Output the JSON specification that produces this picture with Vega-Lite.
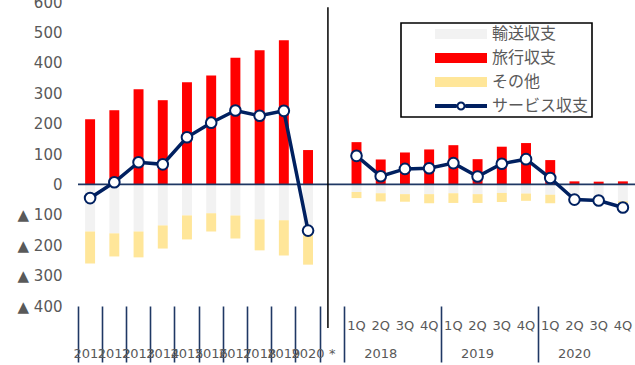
{
  "$schema": "https://vega.github.io/schema/vega-lite/v6.json",
  "autosize": {"type": "none"},
  "padding": {"left": 78, "top": 2, "right": 0, "bottom": 59},
  "width": 557,
  "height": 304,
  "title": {
    "text": "（図表6）タイのサービス収支（内訳）の推移",
    "frame": "group",
    "anchor": "middle",
    "dx": -29,
    "offset": -19,
    "baseline": "bottom",
    "font": "Noto Sans CJK JP",
    "fontSize": 18,
    "fontWeight": "normal",
    "color": "#000000"
  },
  "datasets": {
    "bars": [
      {"k": "2011", "s": "旅行収支", "v": 214}, {"k": "2011", "s": "輸送収支", "v": -155}, {"k": "2011", "s": "その他", "v": -105},
      {"k": "2012", "s": "旅行収支", "v": 244}, {"k": "2012", "s": "輸送収支", "v": -161}, {"k": "2012", "s": "その他", "v": -76},
      {"k": "2013", "s": "旅行収支", "v": 313}, {"k": "2013", "s": "輸送収支", "v": -155}, {"k": "2013", "s": "その他", "v": -85},
      {"k": "2014", "s": "旅行収支", "v": 277}, {"k": "2014", "s": "輸送収支", "v": -135}, {"k": "2014", "s": "その他", "v": -76},
      {"k": "2015", "s": "旅行収支", "v": 336}, {"k": "2015", "s": "輸送収支", "v": -102}, {"k": "2015", "s": "その他", "v": -79},
      {"k": "2016", "s": "旅行収支", "v": 358}, {"k": "2016", "s": "輸送収支", "v": -95}, {"k": "2016", "s": "その他", "v": -60},
      {"k": "2017", "s": "旅行収支", "v": 417}, {"k": "2017", "s": "輸送収支", "v": -102}, {"k": "2017", "s": "その他", "v": -76},
      {"k": "2018", "s": "旅行収支", "v": 441}, {"k": "2018", "s": "輸送収支", "v": -115}, {"k": "2018", "s": "その他", "v": -102},
      {"k": "2019", "s": "旅行収支", "v": 474}, {"k": "2019", "s": "輸送収支", "v": -118}, {"k": "2019", "s": "その他", "v": -116},
      {"k": "2020", "s": "旅行収支", "v": 113}, {"k": "2020", "s": "輸送収支", "v": -164}, {"k": "2020", "s": "その他", "v": -100},
      {"k": "2018-1Q", "s": "旅行収支", "v": 139}, {"k": "2018-1Q", "s": "輸送収支", "v": -25}, {"k": "2018-1Q", "s": "その他", "v": -20},
      {"k": "2018-2Q", "s": "旅行収支", "v": 82}, {"k": "2018-2Q", "s": "輸送収支", "v": -29}, {"k": "2018-2Q", "s": "その他", "v": -27},
      {"k": "2018-3Q", "s": "旅行収支", "v": 105}, {"k": "2018-3Q", "s": "輸送収支", "v": -32}, {"k": "2018-3Q", "s": "その他", "v": -25},
      {"k": "2018-4Q", "s": "旅行収支", "v": 115}, {"k": "2018-4Q", "s": "輸送収支", "v": -32}, {"k": "2018-4Q", "s": "その他", "v": -30},
      {"k": "2019-1Q", "s": "旅行収支", "v": 129}, {"k": "2019-1Q", "s": "輸送収支", "v": -29}, {"k": "2019-1Q", "s": "その他", "v": -32},
      {"k": "2019-2Q", "s": "旅行収支", "v": 83}, {"k": "2019-2Q", "s": "輸送収支", "v": -32}, {"k": "2019-2Q", "s": "その他", "v": -29},
      {"k": "2019-3Q", "s": "旅行収支", "v": 124}, {"k": "2019-3Q", "s": "輸送収支", "v": -28}, {"k": "2019-3Q", "s": "その他", "v": -30},
      {"k": "2019-4Q", "s": "旅行収支", "v": 136}, {"k": "2019-4Q", "s": "輸送収支", "v": -30}, {"k": "2019-4Q", "s": "その他", "v": -24},
      {"k": "2020-1Q", "s": "旅行収支", "v": 80}, {"k": "2020-1Q", "s": "輸送収支", "v": -34}, {"k": "2020-1Q", "s": "その他", "v": -28},
      {"k": "2020-2Q", "s": "旅行収支", "v": 10}, {"k": "2020-2Q", "s": "輸送収支", "v": -42}, {"k": "2020-2Q", "s": "その他", "v": -18},
      {"k": "2020-3Q", "s": "旅行収支", "v": 9}, {"k": "2020-3Q", "s": "輸送収支", "v": -42}, {"k": "2020-3Q", "s": "その他", "v": -20},
      {"k": "2020-4Q", "s": "旅行収支", "v": 10}, {"k": "2020-4Q", "s": "輸送収支", "v": -55}, {"k": "2020-4Q", "s": "その他", "v": -31}
    ],
    "service": [
      {"k": "2011", "p": "年", "v": -45},
      {"k": "2012", "p": "年", "v": 7},
      {"k": "2013", "p": "年", "v": 73},
      {"k": "2014", "p": "年", "v": 66},
      {"k": "2015", "p": "年", "v": 155},
      {"k": "2016", "p": "年", "v": 203},
      {"k": "2017", "p": "年", "v": 243},
      {"k": "2018", "p": "年", "v": 226},
      {"k": "2019", "p": "年", "v": 242},
      {"k": "2020", "p": "年", "v": -152},
      {"k": "2018-1Q", "p": "四半期", "v": 94},
      {"k": "2018-2Q", "p": "四半期", "v": 27},
      {"k": "2018-3Q", "p": "四半期", "v": 51},
      {"k": "2018-4Q", "p": "四半期", "v": 53},
      {"k": "2019-1Q", "p": "四半期", "v": 70},
      {"k": "2019-2Q", "p": "四半期", "v": 26},
      {"k": "2019-3Q", "p": "四半期", "v": 68},
      {"k": "2019-4Q", "p": "四半期", "v": 83},
      {"k": "2020-1Q", "p": "四半期", "v": 21},
      {"k": "2020-2Q", "p": "四半期", "v": -50},
      {"k": "2020-3Q", "p": "四半期", "v": -53},
      {"k": "2020-4Q", "p": "四半期", "v": -76}
    ]
  },
  "layer": [
    {
      "data": {"name": "bars"},
      "mark": {"type": "bar", "width": {"band": 0.41}},
      "encoding": {
        "x": {
          "field": "k",
          "type": "nominal",
          "sort": null,
          "title": null,
          "scale": {
            "type": "band",
            "paddingInner": 0,
            "paddingOuter": 0,
            "domain": ["2011", "2012", "2013", "2014", "2015", "2016", "2017", "2018", "2019", "2020", "*",
                       "2018-1Q", "2018-2Q", "2018-3Q", "2018-4Q", "2019-1Q", "2019-2Q", "2019-3Q", "2019-4Q",
                       "2020-1Q", "2020-2Q", "2020-3Q", "2020-4Q"]
          },
          "axis": {
            "orient": "bottom",
            "title": null,
            "domain": false,
            "grid": false,
            "ticks": true,
            "bandPosition": 0,
            "tickSize": 56,
            "tickWidth": 1.6,
            "tickColor": "#1f3864",
            "tickOpacity": {"condition": {"test": "indexof(datum.value, 'Q') < 0 || indexof(datum.value, '-1Q') > 0", "value": 1}, "value": 0},
            "labelAngle": 0,
            "labelOverlap": false,
            "labelPadding": -43,
            "labelBaseline": "top",
            "labelLineHeight": 28,
            "labelFont": "DejaVu Sans",
            "labelFontSize": 13,
            "labelColor": "#595959",
            "labelExpr": "indexof(datum.value, '-2Q') > 0 ? ['2Q', '\u2007\u2007\u2007' + slice(datum.value, 0, 4)] : indexof(datum.value, 'Q') > 0 ? slice(datum.value, 5) : ['', datum.value]"
          }
        },
        "y": {
          "field": "v",
          "type": "quantitative",
          "stack": "zero",
          "scale": {"domain": [-400, 600], "nice": false, "zero": false},
          "axis": {
            "title": null,
            "values": [-400, -300, -200, -100, 0, 100, 200, 300, 400, 500, 600],
            "tickCount": 12,
            "labelExpr": "datum.value < 0 ? '▲ ' + format(-datum.value, 'd') : format(datum.value, 'd')",
            "labelOverlap": false,
            "domain": false,
            "ticks": false,
            "grid": false,
            "labelPadding": 16,
            "labelFont": "DejaVu Sans",
            "labelFontSize": 15,
            "labelColor": "#595959"
          }
        },
        "color": {
          "field": "s",
          "type": "nominal",
          "scale": {
            "domain": ["輸送収支", "旅行収支", "その他", "サービス収支"],
            "range": ["#f2f2f2", "#ff0000", "#ffe699", "#002060"]
          },
          "legend": {
            "orient": "none",
            "legendX": 323,
            "legendY": 21,
            "title": null,
            "padding": 3,
            "rowPadding": 8,
            "symbolType": "M-3.25,-0.625H3.25V0.625H-3.25Z",
            "symbolOffset": 49,
            "labelOffset": 23,
            "symbolSize": 256,
            "symbolStrokeWidth": 0,
            "labelFont": "Noto Sans CJK JP",
            "labelFontSize": 16,
            "labelColor": "#595959",
            "strokeColor": "#000000",
            "fillColor": "#ffffff",
            "encode": {
              "legend": {"update": {"strokeWidth": {"value": 1.6}}},
              "symbols": {
                "update": {
                  "shape": {"signal": "datum.value === 'サービス収支' ? 'M-3.25,-0.25H-0.55V0.25H-3.25ZM0.55,-0.25H3.25V0.25H0.55ZM0.5625,0A0.5625,0.5625,0,1,1,-0.5625,0A0.5625,0.5625,0,1,1,0.5625,0ZM0.3125,0A0.3125,0.3125,0,1,0,-0.3125,0A0.3125,0.3125,0,1,0,0.3125,0Z' : 'M-3.25,-0.625H3.25V0.625H-3.25Z'"}
                }
              }
            }
          }
        },
        "order": {"field": "s", "sort": "descending"}
      }
    },
    {
      "data": {"values": [{}]},
      "mark": {"type": "rule", "color": "#1f3864", "strokeWidth": 1.6},
      "encoding": {
        "y": {"datum": 0, "type": "quantitative"}
      }
    },
    {
      "data": {"values": [{"k": "*"}]},
      "mark": {"type": "rule", "color": "#000000", "strokeWidth": 1.5},
      "encoding": {
        "x": {"field": "k", "type": "nominal", "title": null, "bandPosition": 0.32},
        "y": {"datum": 583, "type": "quantitative"},
        "y2": {"datum": -472}
      }
    },
    {
      "data": {"name": "service"},
      "mark": {"type": "line", "color": "#002060", "strokeWidth": 3.5},
      "encoding": {
        "x": {"field": "k", "type": "nominal", "sort": null, "title": null},
        "y": {"field": "v", "type": "quantitative", "title": null},
        "detail": {"field": "p"}
      }
    },
    {
      "data": {"name": "service"},
      "mark": {"type": "point", "filled": true, "fill": "#ffffff", "stroke": "#002060", "strokeWidth": 2, "size": 113, "opacity": 1},
      "encoding": {
        "x": {"field": "k", "type": "nominal", "sort": null, "title": null},
        "y": {"field": "v", "type": "quantitative", "title": null}
      }
    }
  ],
  "config": {
    "view": {"stroke": null},
    "font": "Noto Sans CJK JP",
    "axisY": {"labelOverlap": false, "tickCount": 12}
  }
}
